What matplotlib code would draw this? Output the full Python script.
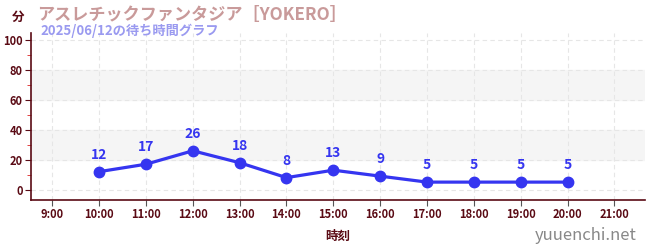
import matplotlib
matplotlib.use("Agg")
import matplotlib.pyplot as plt
from matplotlib.ticker import MultipleLocator

plt.rcParams['font.family'] = ['Noto Sans CJK JP', 'DejaVu Sans']

hours = [10, 11, 12, 13, 14, 15, 16, 17, 18, 19, 20]
waits = [12, 17, 26, 18, 8, 13, 9, 5, 5, 5, 5]
tick_hours = list(range(9, 22))
tick_labels = [f"{h}:00" for h in tick_hours]

title = "アスレチックファンタジア［YOKERO］"
subtitle = "2025/06/12の待ち時間グラフ"

axis_col = "#5a0a14"
line_col = "#3535f0"

fig = plt.figure(figsize=(6.5, 2.5), dpi=100)
ax = fig.add_axes([0.048, 0.2, 0.944, 0.668])

ax.axhspan(20, 40, color="#f5f5f5", zorder=0)
ax.axhspan(60, 80, color="#f5f5f5", zorder=0)

ax.plot(hours, waits, color=line_col, lw=2.3, marker="o", ms=7.5, zorder=3)
for h, w in zip(hours, waits):
    ax.annotate(str(w), (h, w), xytext=(0, 7), textcoords="offset points",
                ha="center", va="bottom", color=line_col, fontsize=10, fontweight="bold")

ax.set_xlim(8.55, 21.65)
ax.set_ylim(-7, 105)
ax.set_xticks(tick_hours)
ax.set_xticklabels(tick_labels)
ax.yaxis.set_major_locator(MultipleLocator(20))
ax.yaxis.set_minor_locator(MultipleLocator(10))
ax.grid(True, which="major", color="#e6e6e6", ls=(0, (4, 3)), lw=0.8)
ax.set_axisbelow(True)

for s in ["top", "right"]:
    ax.spines[s].set_visible(False)
for s in ["left", "bottom"]:
    ax.spines[s].set_color(axis_col)
    ax.spines[s].set_linewidth(1.2)

ax.tick_params(axis="y", which="major", colors=axis_col, labelsize=8, length=4, pad=2)
ax.tick_params(axis="y", which="minor", color="#dd2222", length=3)
ax.tick_params(axis="x", colors="#555555", labelcolor=axis_col, labelsize=8, length=4, pad=2)
for lab in ax.get_xticklabels() + ax.get_yticklabels():
    lab.set_fontweight("bold")

ax.set_xlabel("時刻", color=axis_col, fontsize=9, fontweight="bold", labelpad=6)

fig.text(0.018, 0.93, "分", color=axis_col, fontsize=9, fontweight="bold", va="center")
fig.text(0.057, 0.94, title, color="#c99a9a", fontsize=12.3, fontweight="bold", va="center")
fig.text(0.063, 0.875, subtitle, color="#9a9af0", fontsize=9.5, fontweight="bold", va="center")
fig.text(0.98, 0.06, "yuuenchi.net", color="#888888", fontsize=12, ha="right", va="center")

fig.savefig("out.png", dpi=100)
